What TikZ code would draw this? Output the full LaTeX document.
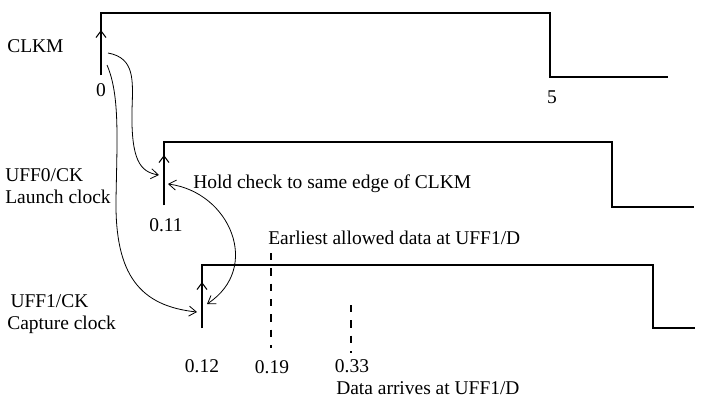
\documentclass[tikz,border=0pt]{standalone}
\usepackage{fontspec}
\setmainfont{Liberation Serif}
\usepackage{tikz}
\usetikzlibrary{arrows.meta}

\begin{document}
\begin{tikzpicture}[
    x=0.75pt, y=-0.75pt,
    font=\fontsize{14.6}{16.5}\selectfont,
    wave/.style={line width=1.5pt, line join=miter},
    edgearrow/.style={line width=1.5pt, -{Straight Barb[length=5pt, width=7.5pt, line width=0.8pt]}},
    link/.style={line width=0.6pt, -{Straight Barb[length=5.5pt, width=7.5pt]}},
    dlink/.style={line width=0.6pt, {Straight Barb[length=5.5pt, width=7.5pt]}-{Straight Barb[length=5.5pt, width=7.5pt]}},
    mark line/.style={line width=0.8pt, dash pattern=on 5.5pt off 6pt},
    lbl/.style={inner sep=0pt, align=left}
]
\useasboundingbox (0,0) rectangle (708,400);

% Clock waveforms
\coordinate (clkm)  at (101,75);
\coordinate (uff0)  at (164,205);
\coordinate (uff1)  at (202,328);
\draw[wave] (clkm) -- (101,13) -- (550,13) -- (550,77) -- (668,77);
\draw[wave] (uff0) -- (164,142) -- (612,142) -- (612,207) -- (694,207);
\draw[wave] (uff1) -- (202,265) -- (653,265) -- (653,328) -- (695,328);
\coordinate (clkmup) at (101,30);
\coordinate (uff0up) at (164,155);
\coordinate (uff1up) at (202,282);
\draw[edgearrow] (clkm) -- (clkmup);
\draw[edgearrow] (uff0) -- (uff0up);
\draw[edgearrow] (uff1) -- (uff1up);

% Labels
\node[lbl, anchor=west] (nclkm) at (7,46)  {CLKM};
\node[lbl, anchor=west] (nuff0) at (5,186) {UFF0/CK\\Launch clock};
\node[lbl, anchor=west] (nuff1) at (7,314) {\,UFF1/CK\\Capture clock};
\node[lbl] (t0)   at (101,90)  {0};
\node[lbl] (t5)   at (552,97)  {5};
\node[lbl] (t011) at (166,225) {0.11};
\node[lbl] (t012) at (202,366) {0.12};
\node[lbl] (t019) at (272,367) {0.19};
\node[lbl] (t033) at (352,366) {0.33};
\node[lbl, anchor=west] (hold)   at (193,184) {Hold check to same edge of CLKM};
\node[lbl, anchor=west] (early)  at (268,238) {Earliest allowed data at UFF1/D};
\node[lbl, anchor=west] (arrive) at (336,388) {Data arrives at UFF1/D};

% Data markers
\draw[mark line] (271,253) -- (271,348);
\draw[mark line] (351,305) -- (351,353);

% Timing relations
\coordinate (src1) at (108,53);
\coordinate (src2) at (107,65);
\coordinate (dst1) at (159,175);
\coordinate (dst2) at (197,312);
\coordinate (hchk) at (168,184);
\coordinate (hcap) at (207,304);
\draw[link] (src1) .. controls (135,58) and (133,80) .. (132,110)
                   .. controls (131,160) and (140,172) .. (dst1);
\draw[link] (src2) .. controls (120,95) and (117,140) .. (116,200)
                   .. controls (115,275) and (140,306) .. (dst2);
\draw[dlink] (hchk) .. controls (230,192) and (262,268) .. (hcap);
\end{tikzpicture}
\end{document}
